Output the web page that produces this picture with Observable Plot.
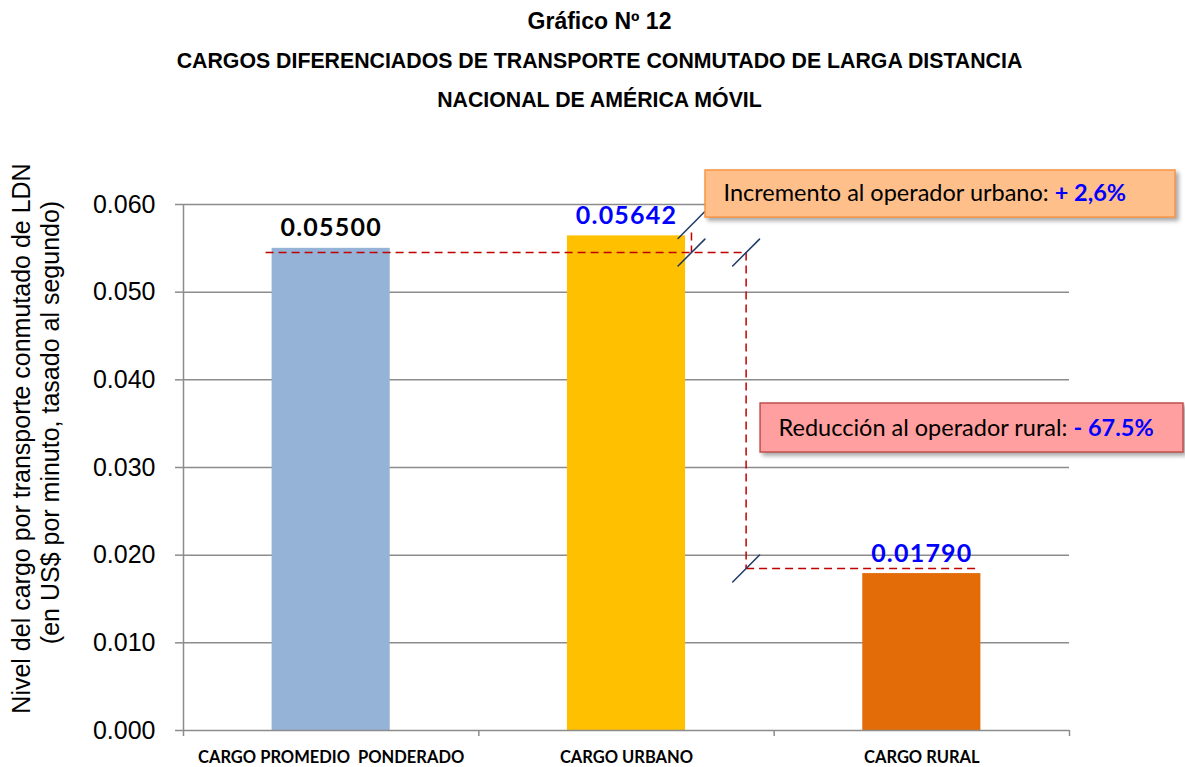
<!DOCTYPE html>
<html><head><meta charset="utf-8">
<script src="https://cdn.jsdelivr.net/npm/d3@7"></script>
<script src="https://cdn.jsdelivr.net/npm/@observablehq/plot@0.6"></script>
<style>
body{margin:0;background:#fff;width:1185px;height:767px;overflow:hidden;font-family:"Liberation Sans",Arial,sans-serif}
#title{height:120px;position:relative}
.t{position:absolute;left:0;width:1185px;text-align:center;font-weight:bold;font-size:21.3px;line-height:24px;color:#000;padding-left:14px;box-sizing:border-box;white-space:nowrap}
.t.first{font-size:23px}
g[aria-description="boxes"]{filter:drop-shadow(3px 3px 2px rgba(0,0,0,0.35))}
g[aria-description="bar-values"] text{letter-spacing:1.2px}
g[aria-description="x-labels"] text{white-space:pre}
g[aria-description="box-text"] text{white-space:pre}
</style></head><body>
<div id="title"></div>
<div id="chart"></div>
<script>
// ---- data ----
const titleLines = ["Gráfico Nº 12", "CARGOS DIFERENCIADOS DE TRANSPORTE CONMUTADO DE LARGA DISTANCIA", "NACIONAL DE AMÉRICA MÓVIL"];
const categories = ["CARGO PROMEDIO  PONDERADO", "CARGO URBANO", "CARGO RURAL"];
const values = [0.05500, 0.05642, 0.01790];
const valueLabels = ["0.05500", "0.05642", "0.01790"];
const barColors = ["#95b3d7", "#ffc000", "#e36c09"];
const labelColors = ["#000000", "#0000ff", "#0000ff"];
const yTicks = [0, 0.01, 0.02, 0.03, 0.04, 0.05, 0.06];
const yTitle = ["Nivel del cargo por transporte conmutado de LDN", "(en US$ por minuto, tasado al segundo)"];
const annotationMain = ["Incremento al operador urbano: ", "Reducción al operador rural: "];
const annotationHighlight = ["+ 2,6%", "- 67.5%"];

// ---- annotation geometry (data units) ----
const dashSegments = [
  {x1: 0.278, y1: 0.05452, x2: 1.905, y2: 0.05452},
  {x1: 1.72, y1: 0.0568, x2: 1.72, y2: 0.05452},
  {x1: 1.905, y1: 0.05452, x2: 1.905, y2: 0.01848},
  {x1: 1.905, y1: 0.01848, x2: 2.696, y2: 0.01848}
];
const slashes = [
  {x: 1.72, y: 0.05452}, {x: 1.72, y: 0.05766},
  {x: 1.905, y: 0.05452}, {x: 1.905, y: 0.01848}
];
const boxes = [
  {x1: 1.7675, x2: 3.359, y1: 0.05851, y2: 0.06388, fill: "#ffbf8a", stroke: "#f79646"},
  {x1: 1.954, x2: 3.386, y1: 0.03171, y2: 0.0373, fill: "#ff9f9f", stroke: "#c0504d"}
];
const boxTextPos = [{x: 1.8285, y: 0.06125}, {x: 2.015, y: 0.03445}];

// ---- build ----
const titleDiv = document.getElementById("title");
[10, 49, 88].forEach((top, i) => {
  const d = document.createElement("div");
  d.className = i === 0 ? "t first" : "t";
  d.style.top = (i === 0 ? top - 1 : top) + "px";
  d.textContent = titleLines[i];
  titleDiv.append(d);
});

const bars = categories.map((c, i) => ({category: c, i, value: values[i], label: valueLabels[i], color: barColors[i], labelColor: labelColors[i]}));
const boxTexts = boxTextPos.map((p, i) => ({...p, main: annotationMain[i], highlight: annotationHighlight[i]}));
const grey = "#8c8c8c";

const svg = Plot.plot({
  width: 1185, height: 647,
  marginTop: 84, marginBottom: 37, marginLeft: 183, marginRight: 116,
  x: {domain: [0, 3]},
  y: {domain: [0, 0.06]},
  color: {type: "identity"},
  style: {fontFamily: "'Liberation Sans', Arial, sans-serif", background: "white", overflow: "visible", color: "black"},
  marks: [
    Plot.gridY({ticks: yTicks.filter(d => d > 0), stroke: grey, strokeOpacity: 1, strokeWidth: 1.5}),
    Plot.rectY(bars, {x1: d => d.i + 0.3, x2: d => d.i + 0.7, y: "value", fill: "color"}),
    Plot.ruleX([0], {y1: 0, y2: 0.06, stroke: grey, strokeWidth: 1.5}),
    Plot.ruleY([0], {stroke: grey, strokeWidth: 1.5}),
    Plot.axisY({ticks: yTicks, tickSize: 8, tickPadding: 20, tickFormat: d3.format(".3f"), fontSize: 25, stroke: grey, strokeWidth: 1.5, fill: "black", label: null}),
    Plot.axisX({ticks: [0, 1, 2, 3], tickSize: 6, tickFormat: () => "", stroke: grey, strokeWidth: 1.5, label: null}),
    Plot.text(bars, {x: d => d.i + 0.5, y: 0, text: "category", dy: 27, lineAnchor: "middle", fontSize: 16.5, fontWeight: "bold", fontFamily: "Lato, sans-serif", fill: "black", ariaDescription: "x-labels"}),
    Plot.link(dashSegments, {x1: "x1", y1: "y1", x2: "x2", y2: "y2", stroke: "#c00000", strokeWidth: 1.5, strokeDasharray: "8,5"}),
    Plot.vector(slashes, {x: "x", y: "y", length: 38, rotate: 45, anchor: "middle", stroke: "#1f3864", strokeWidth: 1.5,
      shape: {draw(context, l) { context.moveTo(0, 0); context.lineTo(0, -l); }}}),
    Plot.text(bars, {x: d => d.i + 0.5, y: "value", text: "label", fill: "labelColor", dy: -12, lineAnchor: "bottom", fontSize: 25, fontWeight: "bold", fontFamily: "Lato, sans-serif", ariaDescription: "bar-values"}),
    Plot.rect(boxes, {x1: "x1", x2: "x2", y1: "y1", y2: "y2", fill: "fill", stroke: "stroke", strokeWidth: 1.5, ariaDescription: "boxes"}),
    Plot.text(boxTexts, {x: "x", y: "y", text: d => d.main + d.highlight, textAnchor: "start", lineAnchor: "middle", fontSize: 23.5, fontFamily: "Lato, sans-serif", fill: "black", ariaDescription: "box-text"}),
    Plot.text([yTitle[0]], {text: d => d, frameAnchor: "left", textAnchor: "middle", lineAnchor: "middle", dx: -162, dy: -29, rotate: -90, fontSize: 25, fill: "black"}),
    Plot.text([yTitle[1]], {text: d => d, frameAnchor: "left", textAnchor: "middle", lineAnchor: "middle", dx: -133, dy: -45, rotate: -90, fontSize: 25, fill: "black"})
  ]
});
document.getElementById("chart").append(svg);

// split the annotation text into a normal part and a highlighted part
const ns = "http://www.w3.org/2000/svg";
svg.querySelectorAll('g[aria-description="box-text"] text').forEach((t, i) => {
  const d = boxTexts[i];
  t.textContent = "";
  const a = document.createElementNS(ns, "tspan");
  a.textContent = d.main;
  const b = document.createElementNS(ns, "tspan");
  b.textContent = d.highlight;
  b.setAttribute("fill", "#0000ff");
  b.setAttribute("font-weight", "bold");
  t.append(a, b);
});
</script>
</body></html>
